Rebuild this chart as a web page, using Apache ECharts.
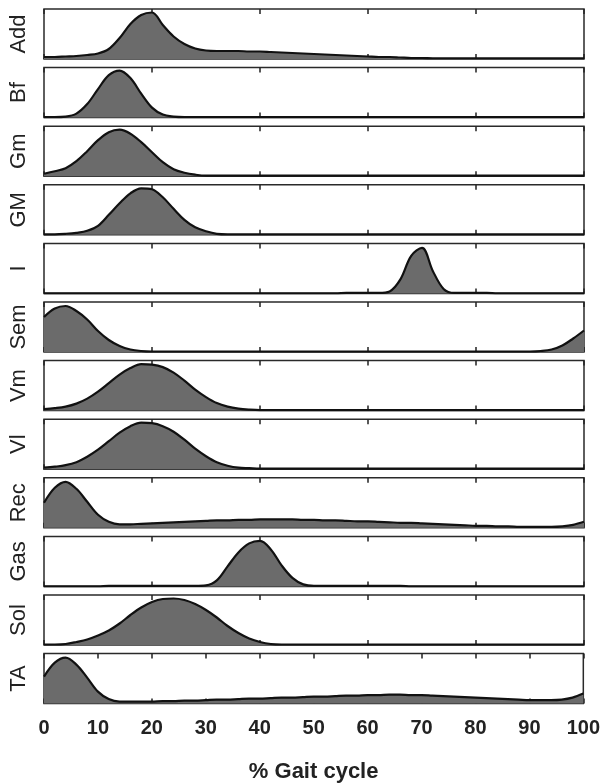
<!DOCTYPE html>
<html>
<head>
<meta charset="utf-8">
<title>Muscle activity over the gait cycle</title>
<script src="https://cdn.jsdelivr.net/npm/echarts@6/dist/echarts.min.js"></script>
<style>
  html, body { margin: 0; padding: 0; background: #fff; }
  #chart { width: 603px; height: 784px; }
</style>
</head>
<body>
<div id="chart"></div>
<script>
// % gait cycle, sampled every 2 %
var gaitPct = [0, 2, 4, 6, 8, 10, 12, 14, 16, 18, 20, 22, 24, 26, 28, 30, 32, 34, 36, 38,
  40, 42, 44, 46, 48, 50, 52, 54, 56, 58, 60, 62, 64, 66, 68, 70, 72, 74, 76, 78,
  80, 82, 84, 86, 88, 90, 92, 94, 96, 98, 100];

// normalised activation per muscle
var add = [0.04, 0.04, 0.05, 0.06, 0.08, 0.11, 0.2, 0.42, 0.7, 0.88, 0.93, 0.68, 0.45, 0.3, 0.21, 0.17, 0.16, 0.16, 0.16, 0.15,
  0.15, 0.14, 0.13, 0.12, 0.11, 0.1, 0.09, 0.08, 0.07, 0.06, 0.05, 0.04, 0.04, 0.03, 0.02, 0.02, 0.015, 0.015, 0.015, 0.015,
  0.015, 0.015, 0.015, 0.015, 0.015, 0.015, 0.015, 0.015, 0.015, 0.015, 0.015];
var bf = [0.01, 0.01, 0.02, 0.08, 0.27, 0.57, 0.85, 0.94, 0.79, 0.48, 0.2, 0.06, 0.02, 0.01, 0.01, 0.01, 0.01, 0.01, 0.01, 0.01,
  0.01, 0.01, 0.01, 0.01, 0.01, 0.01, 0.01, 0.01, 0.01, 0.01, 0.01, 0.01, 0.01, 0.01, 0.01, 0.01, 0.01, 0.01, 0.01, 0.01,
  0.01, 0.01, 0.01, 0.01, 0.01, 0.01, 0.01, 0.01, 0.01, 0.01, 0.01];
var gm = [0.05, 0.1, 0.16, 0.3, 0.5, 0.72, 0.88, 0.93, 0.85, 0.68, 0.48, 0.28, 0.14, 0.07, 0.03, 0.01, 0.01, 0.01, 0.01, 0.01,
  0.01, 0.01, 0.01, 0.01, 0.01, 0.01, 0.01, 0.01, 0.01, 0.01, 0.01, 0.01, 0.01, 0.01, 0.01, 0.01, 0.01, 0.01, 0.01, 0.01,
  0.01, 0.01, 0.01, 0.01, 0.01, 0.01, 0.01, 0.01, 0.01, 0.01, 0.01];
var gmax = [0.01, 0.01, 0.02, 0.04, 0.08, 0.18, 0.4, 0.63, 0.83, 0.93, 0.91, 0.75, 0.52, 0.3, 0.15, 0.07, 0.02, 0.01, 0.01, 0.01,
  0.01, 0.01, 0.01, 0.01, 0.01, 0.01, 0.01, 0.01, 0.01, 0.01, 0.01, 0.01, 0.01, 0.01, 0.01, 0.01, 0.01, 0.01, 0.01, 0.01,
  0.01, 0.01, 0.01, 0.01, 0.01, 0.01, 0.01, 0.01, 0.01, 0.01, 0.01];
var iliacus = [0, 0, 0, 0, 0, 0, 0, 0, 0, 0, 0, 0, 0, 0, 0, 0, 0, 0, 0, 0,
  0, 0, 0, 0, 0, 0, 0, 0, 0.01, 0.01, 0.01, 0.01, 0.04, 0.28, 0.75, 0.91, 0.45, 0.09, 0.01, 0.01,
  0.01, 0.01, 0, 0, 0, 0, 0, 0, 0, 0, 0];
var sem = [0.7, 0.87, 0.92, 0.82, 0.65, 0.42, 0.24, 0.12, 0.05, 0.02, 0.01, 0.01, 0.01, 0.01, 0.01, 0.01, 0.01, 0.01, 0.01, 0.01,
  0.01, 0.01, 0.01, 0.01, 0.01, 0.01, 0.01, 0.01, 0.01, 0.01, 0.01, 0.01, 0.01, 0.01, 0.01, 0.01, 0.01, 0.01, 0.01, 0.01,
  0.01, 0.01, 0.01, 0.01, 0.01, 0.01, 0.02, 0.05, 0.13, 0.27, 0.43];
var vm = [0.03, 0.05, 0.08, 0.14, 0.24, 0.38, 0.55, 0.72, 0.85, 0.93, 0.92, 0.87, 0.76, 0.6, 0.42, 0.27, 0.15, 0.08, 0.04, 0.02,
  0.01, 0.01, 0.01, 0.01, 0.01, 0.01, 0.01, 0.01, 0.01, 0.01, 0.01, 0.01, 0.01, 0.01, 0.01, 0.01, 0.01, 0.01, 0.01, 0.01,
  0.01, 0.01, 0.01, 0.01, 0.01, 0.01, 0.01, 0.01, 0.01, 0.01, 0.01];
var vl = [0.03, 0.05, 0.08, 0.14, 0.25, 0.39, 0.56, 0.73, 0.86, 0.93, 0.92, 0.86, 0.75, 0.59, 0.41, 0.26, 0.14, 0.07, 0.03, 0.02,
  0.01, 0.01, 0.01, 0.01, 0.01, 0.01, 0.01, 0.01, 0.01, 0.01, 0.01, 0.01, 0.01, 0.01, 0.01, 0.01, 0.01, 0.01, 0.01, 0.01,
  0.01, 0.01, 0.01, 0.01, 0.01, 0.01, 0.01, 0.01, 0.01, 0.01, 0.01];
var rec = [0.5, 0.8, 0.92, 0.78, 0.52, 0.26, 0.12, 0.07, 0.07, 0.08, 0.09, 0.1, 0.11, 0.12, 0.13, 0.14, 0.15, 0.15, 0.16, 0.16,
  0.17, 0.17, 0.17, 0.17, 0.16, 0.16, 0.15, 0.15, 0.14, 0.13, 0.13, 0.12, 0.11, 0.1, 0.1, 0.09, 0.08, 0.07, 0.06, 0.05,
  0.04, 0.04, 0.03, 0.03, 0.02, 0.02, 0.02, 0.02, 0.03, 0.06, 0.12];
var gas = [0, 0, 0, 0, 0, 0, 0.01, 0.01, 0.01, 0.01, 0.01, 0.01, 0.01, 0.01, 0.01, 0.02, 0.12, 0.4, 0.68, 0.86,
  0.91, 0.74, 0.42, 0.17, 0.04, 0.01, 0.01, 0.01, 0.01, 0.01, 0.01, 0.01, 0.01, 0.01, 0, 0, 0, 0, 0, 0,
  0, 0, 0, 0, 0, 0, 0, 0, 0, 0, 0];
var sol = [0.01, 0.01, 0.02, 0.06, 0.11, 0.19, 0.29, 0.43, 0.6, 0.75, 0.86, 0.92, 0.93, 0.9, 0.82, 0.7, 0.55, 0.38, 0.24, 0.13,
  0.06, 0.02, 0.01, 0.01, 0.01, 0.01, 0.01, 0.01, 0.01, 0.01, 0.01, 0.01, 0.01, 0.01, 0.01, 0.01, 0.01, 0.01, 0.01, 0.01,
  0.01, 0.01, 0.01, 0.01, 0.01, 0.01, 0.01, 0.01, 0.01, 0.01, 0.01];
var ta = [0.54, 0.82, 0.92, 0.78, 0.52, 0.24, 0.09, 0.04, 0.04, 0.04, 0.04, 0.05, 0.05, 0.06, 0.06, 0.07, 0.08, 0.08, 0.09, 0.1,
  0.1, 0.11, 0.12, 0.12, 0.13, 0.14, 0.14, 0.15, 0.16, 0.16, 0.17, 0.17, 0.18, 0.18, 0.17, 0.17, 0.16, 0.15, 0.14, 0.13,
  0.12, 0.11, 0.1, 0.09, 0.08, 0.07, 0.07, 0.07, 0.08, 0.12, 0.2];

var muscleNames = ['Add', 'Bf', 'Gm', 'GM', 'I', 'Sem', 'Vm', 'Vl', 'Rec', 'Gas', 'Sol', 'TA'];
var muscleData = [add, bf, gm, gmax, iliacus, sem, vm, vl, rec, gas, sol, ta];

var chart = echarts.init(document.getElementById('chart'));

var FONT = '"Liberation Sans", Arial, sans-serif';
var grids = [], xAxes = [], yAxes = [], series = [];
var n = muscleNames.length;

muscleNames.forEach(function (name, i) {
  var last = i === n - 1;
  grids.push({
    left: 43, right: 19, top: 9 + i * 58.6, height: 50,
    show: true, borderColor: '#2a2a2a', borderWidth: 1.5, backgroundColor: '#fff'
  });
  // bottom + top axes, only for the tick marks (and labels on the last panel)
  ['bottom', 'top'].forEach(function (pos) {
    var showLabel = last && pos === 'bottom';
    xAxes.push({
      type: 'value', gridIndex: i, position: pos,
      min: 0, max: 100, interval: last ? 10 : 20,
      axisLine: { show: false },
      axisTick: { show: true, inside: true, length: 5, lineStyle: { color: '#222', width: 1.5 } },
      splitLine: { show: false },
      axisLabel: {
        show: showLabel, margin: 15, fontSize: 20, fontWeight: 'bold',
        color: '#222', fontFamily: FONT
      },
      name: showLabel ? '% Gait cycle' : '',
      nameLocation: 'middle', nameGap: 57,
      nameTextStyle: { fontSize: 22, fontWeight: 'bold', color: '#222', fontFamily: FONT }
    });
  });
  yAxes.push({
    type: 'value', gridIndex: i, min: 0, max: 1,
    axisLine: { show: false }, axisTick: { show: false },
    axisLabel: { show: false }, splitLine: { show: false },
    name: name, nameLocation: 'middle', nameRotate: 90, nameGap: 14,
    nameTextStyle: { fontSize: 22, color: '#222', fontFamily: FONT }
  });
  series.push({
    type: 'line', name: name,
    xAxisIndex: i * 2, yAxisIndex: i,
    data: gaitPct.map(function (x, k) { return [x, muscleData[i][k]]; }),
    smooth: 0.35, symbol: 'none',
    lineStyle: { color: '#111', width: 2.2 },
    areaStyle: { color: '#6b6b6b', opacity: 1 },
    z: 3
  });
});

chart.setOption({
  animation: false,
  backgroundColor: '#fff',
  grid: grids,
  xAxis: xAxes,
  yAxis: yAxes,
  series: series
});
</script>
</body>
</html>
